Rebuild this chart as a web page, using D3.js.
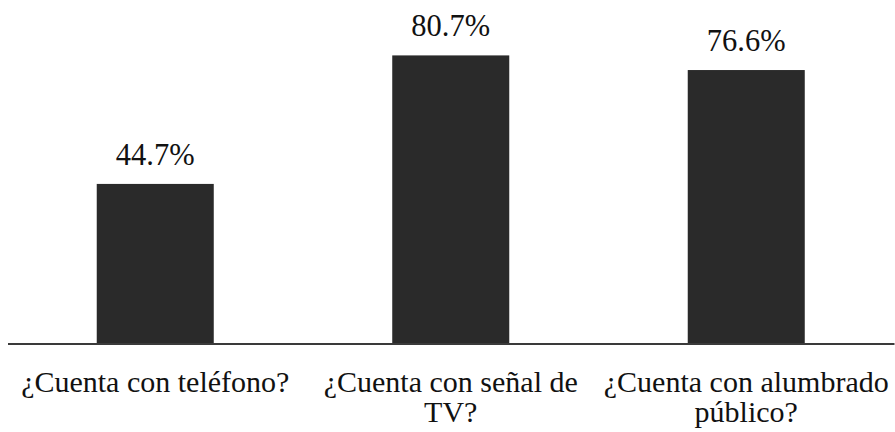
<!DOCTYPE html>
<html>
<head>
<meta charset="utf-8">
<script src="https://cdn.jsdelivr.net/npm/d3@7"></script>
<style>
  html, body { margin: 0; padding: 0; background: #fff; }
  svg { display: block; }
</style>
</head>
<body>
<svg id="chart" width="895" height="432"></svg>
<script>
// Share of households with each service (%)
const categories = ["¿Cuenta con teléfono?", "¿Cuenta con señal de TV?", "¿Cuenta con alumbrado público?"];
const values = [44.7, 80.7, 76.6];
const valueLabels = ["44.7%", "80.7%", "76.6%"];

const width = 895, height = 432;
const baseY = 343.5;
const fontFamily = '"Liberation Serif"';

const svg = d3.select("#chart");

const x = d3.scaleBand()
  .domain(categories)
  .range([7.5, 894])
  .paddingInner(0.604)
  .paddingOuter(0.302);

const y = d3.scaleLinear()
  .domain([0, 90])
  .range([baseY, 22.2]);

const data = categories.map((c, i) => ({ cat: c, value: values[i], label: valueLabels[i] }));

// Bars
svg.append("g")
  .selectAll("rect")
  .data(data)
  .join("rect")
  .attr("x", d => x(d.cat))
  .attr("y", d => y(d.value))
  .attr("width", x.bandwidth())
  .attr("height", d => y(0) - y(d.value))
  .attr("fill", "#2a2a2a");

// Baseline axis
const axis = svg.append("g")
  .attr("transform", `translate(0,${baseY})`)
  .call(d3.axisBottom(x).tickSize(0).tickPadding(0).tickFormat(""));
axis.select(".domain")
  .attr("stroke", "#3a3a3a")
  .attr("stroke-width", 2);

// Value labels above bars
svg.append("g")
  .selectAll("text")
  .data(data)
  .join("text")
  .attr("x", d => x(d.cat) + x.bandwidth() / 2)
  .attr("y", d => y(d.value) - 19)
  .attr("text-anchor", "middle")
  .style("font-family", fontFamily)
  .style("font-size", "30.5px")
  .attr("fill", "#111")
  .text(d => d.label);

// Category labels, wrapped to the band step
const maxW = x.step();
const catG = svg.append("g");
data.forEach(d => {
  const cx = x(d.cat) + x.bandwidth() / 2;
  const t = catG.append("text")
    .attr("x", cx)
    .attr("y", 392)
    .attr("text-anchor", "middle")
    .style("font-family", fontFamily)
    .style("font-size", "30px")
    .attr("fill", "#111");
  const words = d.cat.split(" ");
  let line = [];
  let lineNo = 0;
  let tspan = t.append("tspan").attr("x", cx).attr("y", 392);
  words.forEach(w => {
    line.push(w);
    tspan.text(line.join(" "));
    if (tspan.node().getComputedTextLength() > maxW && line.length > 1) {
      line.pop();
      tspan.text(line.join(" "));
      line = [w];
      lineNo++;
      tspan = t.append("tspan")
        .attr("x", cx)
        .attr("y", 392 + lineNo * 30)
        .text(w);
    }
  });
});
</script>
</body>
</html>
